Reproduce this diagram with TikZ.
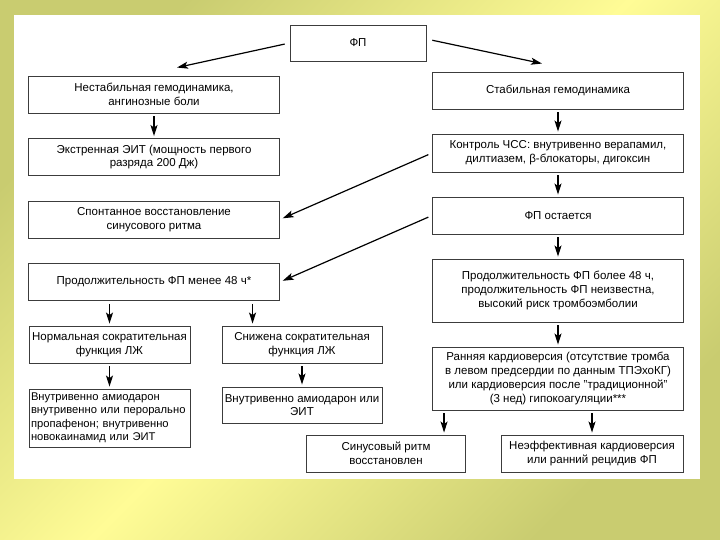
\documentclass[tikz,border=0pt]{standalone}
\usepackage{fontspec}
\setmainfont{Liberation Sans}
\usetikzlibrary{positioning, arrows.meta}
\definecolor{olivebg}{RGB}{201,204,112}
\definecolor{yellowbg}{RGB}{255,252,150}
\definecolor{boxline}{RGB}{60,60,60}
\tikzstyle{box} = [rectangle, draw=boxline, line width=0.9pt, align=center, inner sep=2pt, text=black, font=\fontsize{11.5}{13.8}\selectfont]
\tikzstyle{widebox} = [box, minimum width=251pt, minimum height=37pt]
\tikzstyle{tallbox} = [widebox, minimum height=63pt]
\tikzstyle{narrowbox} = [box, minimum width=161pt, minimum height=37pt]
\tikzstyle{arrow} = [line width=1.2pt, -{Stealth[length=11pt,width=7pt,inset=2.5pt]}, shorten <=3pt, shorten >=2pt]
\begin{document}
\begin{tikzpicture}[node distance=62.5pt]
% background and sheet
\shade [top color=olivebg, bottom color=olivebg, middle color=yellowbg, shading angle=45] (0,0) rectangle (720pt,-540pt);
\useasboundingbox (0,0) rectangle (720pt,-540pt);
\fill [white] (14pt,-15pt) rectangle (700pt,-479pt);
% nodes
\node (fp) [box, minimum width=136pt, minimum height=36pt] at (358pt,-43pt) {ФП};
\node (unstable) [widebox, below of = fp, xshift = -204pt, yshift = 11pt] {Нестабильная гемодинамика,\\ангинозные боли};
\node (eit) [widebox, below of = unstable] {Экстренная ЭИТ (мощность первого\\разряда 200 Дж)};
\node (spont) [widebox, below of = eit] {Спонтанное восстановление\\синусового ритма};
\node (less48) [widebox, below of = spont] {Продолжительность ФП менее 48 ч*};
\node (normal) [narrowbox, below of = less48, xshift = -44.5pt] {Нормальная сократительная\\функция ЛЖ};
\node (reduced) [box, minimum width=160pt, minimum height=37pt, below of = less48, xshift = 148pt] {Снижена сократительная\\функция ЛЖ};
\node (ivleft) [narrowbox, minimum height=58pt, inner sep=1.5pt, text width=157pt, align=left, font=\fontsize{11.2}{13.5}\selectfont, below of = normal, yshift = -11pt] {Внутривенно амиодарон\\внутривенно или перорально\\пропафенон; внутривенно\\новокаинамид или ЭИТ};
\node (ivright) [box, minimum width=160pt, minimum height=36pt, below of = reduced, yshift = 2pt] {Внутривенно амиодарон или\\ЭИТ};
\node (stable) [widebox, below of = fp, xshift = 200pt, yshift = 15pt] {Стабильная гемодинамика};
\node (rate) [widebox, minimum height=38pt, below of = stable] {Контроль ЧСС: внутривенно верапамил,\\дилтиазем, β-блокаторы, дигоксин};
\node (remains) [widebox, below of = rate] {ФП остается};
\node (more48) [tallbox, below of = remains, yshift = -12.5pt] {Продолжительность ФП более 48 ч,\\продолжительность ФП неизвестна,\\высокий риск тромбоэмболии};
\node (early) [tallbox, below of = more48, yshift = -25.5pt] {Ранняя кардиоверсия (отсутствие тромба\\в левом предсердии по данным ТПЭхоКГ)\\или кардиоверсия после "традиционной"\\(3 нед) гипокоагуляции***};
\node (sinus) [box, minimum width=159pt, minimum height=37pt, below of = early, xshift = -172pt, yshift = -12.5pt] {Синусовый ритм\\восстановлен};
\node (ineff) [box, minimum width=182pt, minimum height=37pt, below of = early, xshift = 34pt, yshift = -12.5pt] {Неэффективная кардиоверсия\\или ранний рецидив ФП};
% connectors
\draw [arrow, shorten <=5pt, shorten >=0pt] (fp.west) -- ([xshift=23pt, yshift=8pt]unstable.north);
\draw [arrow, shorten <=6pt, shorten >=0pt] ([yshift=4pt]fp.east) -- ([xshift=-16pt, yshift=8pt]stable.north);
\draw [arrow] (unstable) -- (eit);
\draw [arrow] (stable) -- (rate);
\draw [arrow] (rate) -- (remains);
\draw [arrow, shorten <=4pt, shorten >=3pt] (rate.west) -- (spont.east);
\draw [arrow, shorten <=4pt, shorten >=3pt] (remains.west) -- (less48.east);
\draw [arrow] (remains) -- (more48);
\draw [arrow] (more48) -- (early);
\draw [arrow] (less48.south -| normal.north) -- (normal.north);
\draw [arrow] ([xshift=31pt]reduced.north west |- less48.south) -- ([xshift=31pt]reduced.north west);
\draw [arrow] (normal) -- (ivleft);
\draw [arrow] (reduced) -- (ivright);
\draw [arrow] ([xshift=12pt]early.south west) -- ([xshift=12pt]early.south west |- sinus.north);
\draw [arrow] (early.south -| ineff.north) -- (ineff.north);
\end{tikzpicture}
\end{document}
